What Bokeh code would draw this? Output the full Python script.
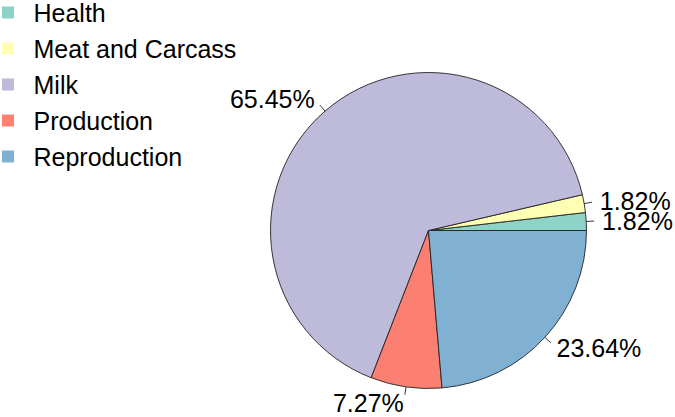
import numpy as np
from bokeh.plotting import figure
from bokeh.models import Range1d
from bokeh.embed import file_html
from bokeh.resources import INLINE
from bokeh.core.properties import value

# ---- data ----
categories = ["Health", "Meat and Carcass", "Milk", "Production", "Reproduction"]
counts = [1, 1, 36, 4, 13]
colors = ["#8DD3C7", "#FFFFB3", "#BEBADA", "#FB8072", "#80B1D3"]

# ---- layout (pixels) ----
W, H = 675, 417
R_PX = 158.0          # pie radius in px
CX, CY = 428.0, 230.0 # pie centre, px from canvas left / top
FONT = "Liberation Sans"
FS = "25px"

def px_to_data(px, py):
    """canvas pixel (from left/top) -> data units (pie radius = 1)"""
    return (px - CX) / R_PX, (CY - py) / R_PX

x0, y1 = px_to_data(0, 0)
x1, y0 = px_to_data(W, H)

p = figure(width=W, height=H, output_backend="svg", toolbar_location=None,
           x_range=Range1d(x0, x1), y_range=Range1d(y0, y1),
           min_border=0, min_border_left=0, min_border_right=0,
           min_border_top=0, min_border_bottom=0)
p.axis.visible = False
p.grid.visible = False
p.outline_line_color = None
p.background_fill_color = "white"
p.border_fill_color = "white"

total = float(sum(counts))
fr = np.array(counts) / total
ends = np.cumsum(fr) * 2 * np.pi
starts = np.concatenate([[0.0], ends[:-1]])
mids = (starts + ends) / 2

p.wedge(x=0, y=0, radius=1.0, start_angle=starts, end_angle=ends,
        fill_color=colors, line_color="#222222", line_width=0.9)

# leader lines and labels (R pie style)
cx_, sy_ = np.cos(mids), np.sin(mids)
p.segment(x0=cx_, y0=sy_, x1=1.05 * cx_, y1=1.05 * sy_, line_color="#222222", line_width=0.9)
labels = [f"{100 * v:.2f}%" for v in fr]
aligns = ["left" if c >= 0 else "right" for c in cx_]
p.text(x=1.1 * cx_, y=1.1 * sy_, text=labels, text_align=aligns,
       text_baseline="middle", text_font=value(FONT), text_font_size=FS,
       text_color="black")

# legend (top-left)
leg_px_y = [12 + 36 * i for i in range(len(categories))]
sq = [px_to_data(7.5, y) for y in leg_px_y]
tx = [px_to_data(33, y) for y in leg_px_y]
p.scatter(x=[a for a, b in sq], y=[b for a, b in sq], marker="square", size=12,
          fill_color=colors, line_color=None)
p.text(x=[a for a, b in tx], y=[b for a, b in tx], text=categories,
       text_align="left", text_baseline="middle", text_font=value(FONT),
       text_font_size=FS, text_color="black")

open("out.html", "w").write(file_html(p, INLINE))
